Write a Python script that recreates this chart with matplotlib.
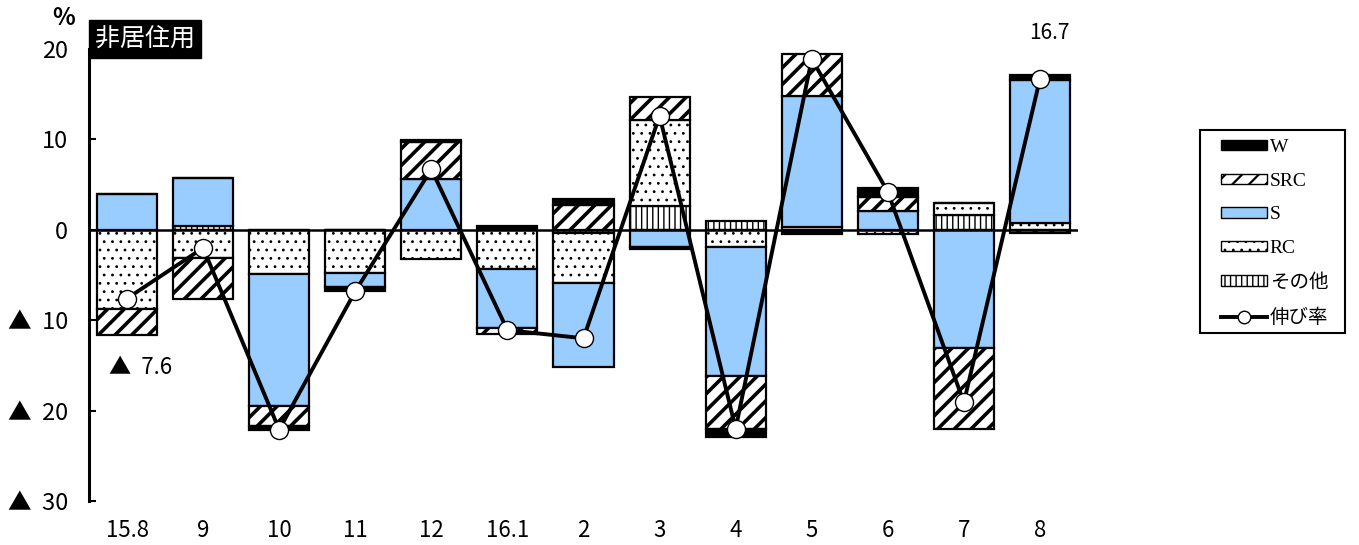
import matplotlib
matplotlib.use("Agg")
import numpy as np
import matplotlib.pyplot as plt
from matplotlib.patches import Patch, Rectangle
from matplotlib.lines import Line2D

plt.rcParams['font.family'] = ['Noto Sans CJK JP', 'DejaVu Sans']
plt.rcParams['hatch.linewidth'] = 2.2

# months (15.8 = 2015 Aug ... 8 = 2016 Aug)
categories = ['15.8', '9', '10', '11', '12', '16.1', '2', '3', '4', '5', '6', '7', '8']

# contributions by structure (percentage points)
w_vals = [0, 0, -0.35, -0.5, 0.2, 0.45, 0.65, -0.25, -0.9, -0.5, 1.0, 0, 0.5]
src_vals = [-2.8, -4.6, -2.3, 0, 4.1, -0.6, 2.75, 2.5, -5.9, 4.7, 1.55, -9.0, -0.3]
s_vals = [4.0, 5.35, -14.6, -1.5, 5.6, -6.6, -9.3, -1.85, -14.3, 14.4, 2.1, -13.05, 15.9]
rc_vals = [-8.8, -3.1, -4.85, -4.8, -3.2, -4.3, -5.5, 9.6, -1.85, 0.35, -0.5, 1.35, 0.7]
other_vals = [0, 0.4, 0, 0, 0, 0, -0.4, 2.6, 1.0, 0, 0, 1.65, 0]

# growth rate (%)
growth = [-7.6, -2.0, -22.1, -6.8, 6.7, -11.1, -12.0, 12.6, -22.0, 18.9, 4.2, -19.1, 16.7]

yticks = [20, 10, 0, -10, -20, -30]

fig = plt.figure(figsize=(13.59, 5.45), dpi=100)
ax = fig.add_axes([89 / 1359, 1 - 501 / 545, (1078 - 89) / 1359, (501 - 49) / 545])

x = np.arange(len(categories))
width = 0.79

# stacking order from zero outwards: (label, values, style, hatch linewidth)
series = [
    ('その他', other_vals, dict(facecolor='white', hatch='|||'), 1.0),
    ('RC', rc_vals, dict(facecolor='white', hatch='..'), 0.8),
    ('S', s_vals, dict(facecolor='#99CCFF'), None),
    ('SRC', src_vals, dict(facecolor='white', hatch='//'), 2.6),
    ('W', w_vals, dict(facecolor='black'), None),
]


def set_hlw(patch, lw):
    if lw is not None and hasattr(patch, 'set_hatch_linewidth'):
        patch.set_hatch_linewidth(lw)


pos_base = np.zeros(len(categories))
neg_base = np.zeros(len(categories))
for name, vals, style, hlw in series:
    v = np.array(vals, dtype=float)
    bottoms = np.where(v >= 0, pos_base, neg_base)
    bars = ax.bar(x, v, width, bottom=bottoms, edgecolor='black', linewidth=1.6,
                  zorder=2, **style)
    for b in bars:
        set_hlw(b, hlw)
    pos_base = pos_base + np.where(v > 0, v, 0)
    neg_base = neg_base + np.where(v < 0, v, 0)

ax.axhline(0, color='black', lw=1.8, zorder=3)

ax.plot(x, growth, color='black', lw=2.8, marker='o', markersize=13,
        markerfacecolor='white', markeredgecolor='black', markeredgewidth=1,
        zorder=5)


def fmt(v):
    return f'▲  {abs(v):g}' if v < 0 else f'{v:g}'


ax.annotate(fmt(growth[0]), xy=(x[0], growth[0]), xytext=(10, -50),
            textcoords='offset points', ha='center', va='center', fontsize=16)
ax.annotate(fmt(growth[-1]), xy=(x[-1], growth[-1]), xytext=(6.5, 33),
            textcoords='offset points', ha='center', va='center', fontsize=15)

ax.set_xlim(-0.5, len(categories) - 0.5)
ax.set_ylim(-30, 20)
ax.set_yticks(yticks)
ax.set_yticklabels([fmt(v) for v in yticks], fontsize=17)
ax.set_xticks(x)
ax.set_xticklabels(categories, fontsize=16)

for side in ['top', 'right', 'bottom']:
    ax.spines[side].set_visible(False)
ax.spines['left'].set_linewidth(2.2)
ax.tick_params(axis='y', direction='in', length=5, width=1.5, pad=15)
ax.tick_params(axis='x', length=0, pad=13)

fig.text(64 / 1359, 1 - 18 / 545, '%', fontsize=17, fontweight='bold',
         ha='center', va='center')
fig.text(95 / 1359, 1 - 39 / 545, '非居住用', fontsize=18, color='white',
         ha='left', va='center',
         bbox=dict(facecolor='black', edgecolor='black', pad=4.5))

# legend frame drawn by hand, legend entries placed inside
fig.patches.append(Rectangle((1200 / 1359, 1 - 333 / 545), 145 / 1359, 203 / 545,
                             transform=fig.transFigure, facecolor='white',
                             edgecolor='black', linewidth=1.5, zorder=0))

handles = [
    Patch(facecolor='black', edgecolor='black', label='W'),
    Patch(facecolor='white', edgecolor='black', hatch='//', label='SRC'),
    Patch(facecolor='#99CCFF', edgecolor='black', label='S'),
    Patch(facecolor='white', edgecolor='black', hatch='..', label='RC'),
    Patch(facecolor='white', edgecolor='black', hatch='|||', label='その他'),
    Line2D([], [], color='black', lw=2.8, marker='o', markersize=9,
           markerfacecolor='white', markeredgecolor='black', label='伸び率'),
]
leg = fig.legend(handles=handles, loc='upper left',
                 bbox_to_anchor=(1221 / 1359, 1 - 139 / 545),
                 frameon=False,
                 prop={'family': ['Liberation Serif', 'Noto Sans CJK JP'], 'size': 14},
                 handlelength=2.35, handleheight=0.45, handletextpad=0.15,
                 labelspacing=0.86, borderpad=0, borderaxespad=0, numpoints=1)
for h, lw in zip(leg.legend_handles, [None, 1.6, None, 0.8, 1.0, None]):
    set_hlw(h, lw)

fig.savefig('out.png', dpi=100)
